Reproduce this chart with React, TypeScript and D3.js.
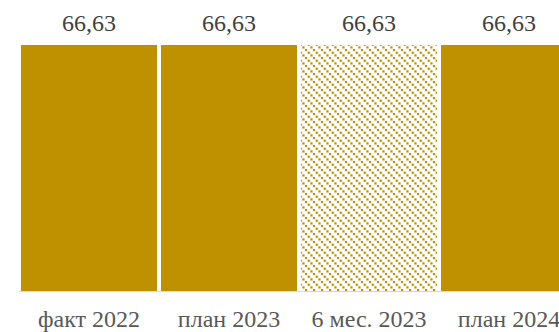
import React from "react";
import * as d3 from "d3";

const categories: string[] = ["факт 2022", "план 2023", "6 мес. 2023", "план 2024"];
const values: number[] = [66.63, 66.63, 66.63, 66.63];
const hatched: boolean[] = [false, false, true, false];

const W = 559;
const H = 332;
const GOLD = "#BF9000";

const hatchDots: number[] = [0, 2.6667, 5.3333];

export default function App() {
  const x = d3
    .scaleBand<string>()
    .domain(categories)
    .range([21, 577])
    .paddingInner(4 / 140)
    .paddingOuter(0);
  const y = d3.scaleLinear().domain([0, 66.63]).range([291, 45]);
  const fmt = (v: number) => d3.format(".2f")(v).replace(".", ",");

  return (
    <svg
      width={W}
      height={H}
      style={{ position: "absolute", left: 0, top: 0 }}
      fontFamily="'Liberation Serif', 'Times New Roman', serif"
    >
      <defs>
        <pattern id="hatch" x={1} y={1} width={8} height={8} patternUnits="userSpaceOnUse">
          <rect width={8} height={8} fill="#fff" />
          {hatchDots.map((d, i) => (
            <rect key={i} x={d} y={d} width={2.2} height={2.2} fill={GOLD} />
          ))}
        </pattern>
      </defs>
      <rect width={W} height={H} fill="#fff" />
      {categories.map((c, i) => (
        <rect
          key={c}
          x={x(c)!}
          y={y(values[i])}
          width={x.bandwidth()}
          height={y(0) - y(values[i])}
          fill={hatched[i] ? "url(#hatch)" : GOLD}
        />
      ))}
      <line x1={19} x2={W} y1={291.5} y2={291.5} stroke="#d9d9d9" strokeWidth={1} />
      {categories.map((c, i) => (
        <text
          key={"v" + c}
          x={x(c)! + x.bandwidth() / 2}
          y={y(values[i]) - 14}
          textAnchor="middle"
          fontSize={24}
          fill="#404040"
        >
          {fmt(values[i])}
        </text>
      ))}
      {categories.map((c) => (
        <text
          key={"l" + c}
          x={x(c)! + x.bandwidth() / 2}
          y={327}
          textAnchor="middle"
          fontSize={24}
          fill="#595959"
        >
          {c}
        </text>
      ))}
    </svg>
  );
}
